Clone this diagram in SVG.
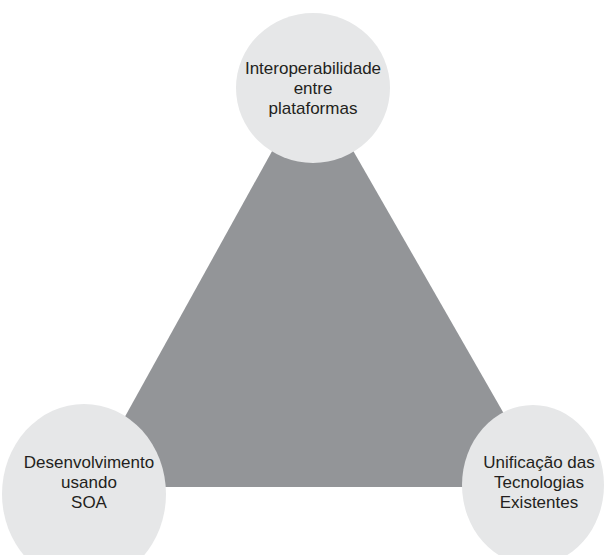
<svg xmlns="http://www.w3.org/2000/svg" width="605" height="555" viewBox="0 0 605 555">
<style>
.node{fill:#e6e7e8}
.lbl{font-family:"Liberation Sans",Arial,sans-serif;font-size:17px;fill:#231f20;text-anchor:middle}
</style>
<rect width="605" height="555" fill="#ffffff"/>
<g id="connectors">
<polygon points="312,79 86,487 546,487" fill="#939598"/>
</g>
<g id="node-top">
<ellipse class="node" cx="313" cy="88" rx="77" ry="75"/>
<text class="lbl" x="313" y="74">Interoperabilidade</text>
<text class="lbl" x="313" y="94">entre</text>
<text class="lbl" x="313" y="114">plataformas</text>
</g>
<g id="node-left">
<ellipse class="node" cx="84" cy="494" rx="82" ry="90"/>
<text class="lbl" x="89" y="468">Desenvolvimento</text>
<text class="lbl" x="89" y="488">usando</text>
<text class="lbl" x="89" y="508">SOA</text>
</g>
<g id="node-right">
<ellipse class="node" cx="533" cy="485" rx="71" ry="80"/>
<text class="lbl" x="539" y="468">Unificação das</text>
<text class="lbl" x="539" y="488">Tecnologias</text>
<text class="lbl" x="539" y="508">Existentes</text>
</g>
</svg>
